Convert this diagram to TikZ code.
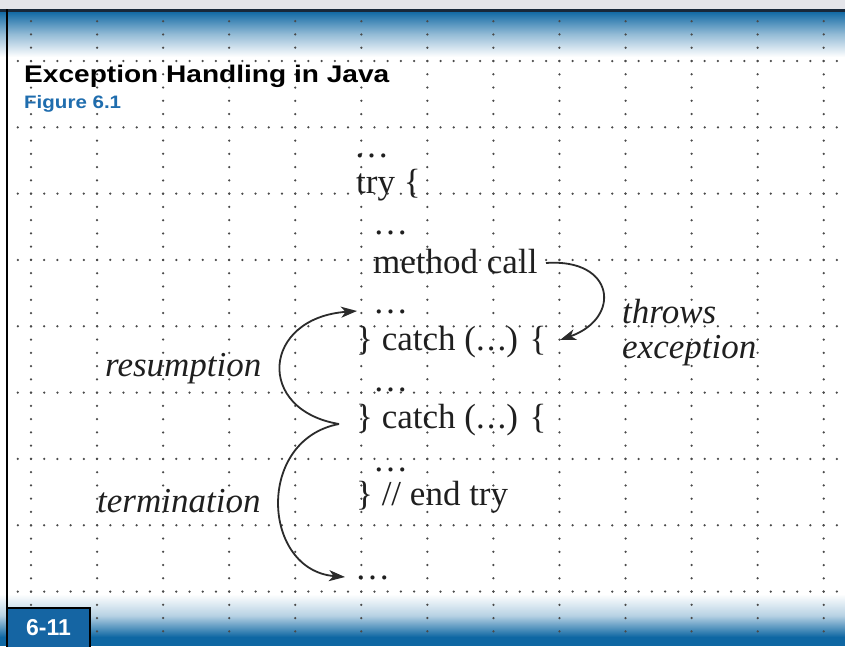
\documentclass[tikz,border=0pt]{standalone}
\usepackage{fontspec}
\setmainfont{Liberation Serif}
\newfontfamily\hdrfont{Liberation Sans}
\usetikzlibrary{arrows.meta}
\definecolor{hdrblue}{HTML}{0E67A3}
\definecolor{figblue}{HTML}{1F6DAE}
\definecolor{boxblue}{HTML}{1565A3}
\definecolor{dotgray}{HTML}{4A4A4A}
\definecolor{arrowgray}{HTML}{2B2B2B}
\definecolor{bandgray}{HTML}{E4E5EA}
\definecolor{navyline}{HTML}{18283A}
\begin{document}
\begin{tikzpicture}[x=1pt,y=-1pt,
  code/.style={font=\fontsize{35}{40}\selectfont, anchor=base west, inner sep=0pt, text=black!88},
  lbl/.style={font=\fontsize{35}{40}\selectfont\itshape, anchor=base west, inner sep=0pt, text=black!88},
  conn/.style={draw=arrowgray, line width=1.8pt, -{Stealth[length=16pt,width=11pt,inset=4.5pt]}},
  griddot/.style={fill=dotgray}]
\useasboundingbox (0,0) rectangle (845,646);
\fill[white] (0,0) rectangle (845,646);
% header
\fill[bandgray] (0,0) rectangle (845,9);
\shade[top color=hdrblue, bottom color=white, middle color=hdrblue!45!white] (0,11) rectangle (845,57);
\fill[navyline] (0,8.5) rectangle (845,12);
% footer
\shade[top color=white, bottom color=hdrblue, middle color=hdrblue!30!white] (0,594) rectangle (845,637);
\fill[hdrblue] (0,637) rectangle (845,646);
% left rule
\fill[black] (5.5,9) rectangle (8,646);
% dotted grid: rows
\foreach \r in {0,...,8} {
  \foreach \c in {-1,...,61} {
    \fill[griddot] ({31+13.21*\c},{61+66.32*\r}) circle (1.25pt);
  }
}
% dotted grid: columns
\foreach \c in {0,...,12} {
  \foreach \r in {-3,...,43} {
    \fill[griddot] ({31+66.06*\c},{61+13.264*\r}) circle (1.25pt);
  }
}
% titles
\node[anchor=base west, inner sep=0pt, font=\hdrfont\bfseries\fontsize{24}{28}\selectfont] (title) at (24,82) {\scalebox{1.17}[1]{Exception Handling in Java}};
\node[anchor=base west, inner sep=0pt, font=\hdrfont\bfseries\fontsize{18}{20}\selectfont, text=figblue] (fig) at (24,108) {\scalebox{1.14}[1]{Figure 6.1}};
% page box
\node[draw=black, line width=2pt, fill=boxblue, minimum width=83pt, minimum height=40pt, anchor=north west, inner sep=0pt, text=white, font=\hdrfont\bfseries\fontsize{23}{26}\selectfont] (pg) at (6,607) {6-11};
% code lines
\node[code] (d1) at (354,157) {\ldots};
\node[code] (try) at (356,193) {try \{};
\node[code] (d2) at (373,234) {\ldots};
\node[code] (mc) at (373,273) {method call};
\node[code] (d3) at (373,313) {\ldots};
\node[code] (c1) at (356,350) {\} catch (.\kern2pt.\kern2pt.) \{};
\node[code] (d4) at (373,391) {\ldots};
\node[code] (c2) at (356,428) {\} catch (.\kern2pt.\kern2pt.) \{};
\node[code] (d5) at (373,471) {\ldots};
\node[code] (et) at (356,505) {\} // end try};
\node[code] (d6) at (355,579) {\ldots};
% labels
\node[lbl] (res) at (105,376) {resumption};
\node[lbl] (term) at (97,512) {termination};
\node[lbl] (thr) at (622,323) {throws};
\node[lbl] (exc) at (622,358) {exception};
% connectors
\coordinate (mcout) at (546,263);
\coordinate (catchin) at (560,340);
\draw[conn] (mcout) .. controls (615,258) and (622,318) .. (catchin);
\coordinate (J) at (339,424);
\coordinate (resT) at (357,311);
\coordinate (termT) at (345,577);
\draw[conn] (J) .. controls (255,410) and (262,318) .. (resT);
\draw[conn] (J) .. controls (255,440) and (262,570) .. (termT);
\end{tikzpicture}
\end{document}
